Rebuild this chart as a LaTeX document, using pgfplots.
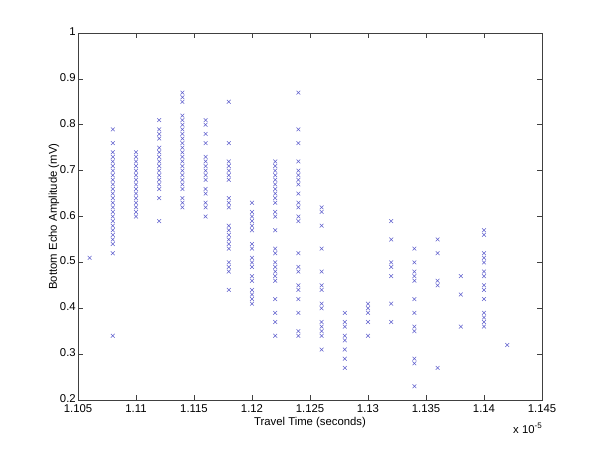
\documentclass[border=0pt]{standalone}
\usepackage{pgfplots}
\pgfplotsset{compat=1.18}
\usepackage{fontspec}
\setmainfont{Liberation Sans}
\definecolor{mk}{RGB}{95,95,205}
\begin{document}
\begin{tikzpicture}
\path[use as bounding box] (0,0) rectangle (450pt,338.25pt);
\begin{axis}[
  at={(58.5pt,38.25pt)}, anchor=south west,
  scale only axis, width=348pt, height=275.25pt,
  xmin=1.105, xmax=1.145, ymin=0.2, ymax=1,
  xtick={1.105,1.11,...,1.145}, ytick={0.2,0.3,...,1.0},
  xticklabels={1.105,1.11,1.115,1.12,1.125,1.13,1.135,1.14,1.145},
  yticklabels={0.2,0.3,0.4,0.5,0.6,0.7,0.8,0.9,1},
  /pgf/number format/assume math mode=true,
  tick pos=both, tick align=inside, major tick length=3.5pt,
  axis line style={black!75, line width=0.5pt},
  tick style={black!75, line width=0.5pt},
  ticklabel style={font=\fontsize{8.5}{9}\selectfont, inner sep=1pt},
  xticklabel style={yshift=-2pt},
  yticklabel style={xshift=-0.5pt, yshift=1pt},
  xlabel={Travel Time (seconds)},
  ylabel={Bottom Echo Amplitude (mV)},
  label style={font=\fontsize{8.5}{9}\selectfont},
  xlabel style={yshift=0.5pt},
  ylabel style={yshift=-4pt},
  clip=false,
]
\addplot[only marks, mark=x, mark size=2pt, color=mk, mark options={line width=0.4pt}] coordinates {
(1.106,0.51)
(1.108,0.79)(1.108,0.76)(1.108,0.74)(1.108,0.73)(1.108,0.72)(1.108,0.71)(1.108,0.70)(1.108,0.69)(1.108,0.68)(1.108,0.67)(1.108,0.66)(1.108,0.65)(1.108,0.64)(1.108,0.63)(1.108,0.62)(1.108,0.61)(1.108,0.60)(1.108,0.59)(1.108,0.58)(1.108,0.57)(1.108,0.56)(1.108,0.55)(1.108,0.54)(1.108,0.52)(1.108,0.34)
(1.110,0.74)(1.110,0.73)(1.110,0.72)(1.110,0.71)(1.110,0.70)(1.110,0.69)(1.110,0.68)(1.110,0.67)(1.110,0.66)(1.110,0.65)(1.110,0.64)(1.110,0.63)(1.110,0.62)(1.110,0.61)(1.110,0.60)
(1.112,0.81)(1.112,0.79)(1.112,0.78)(1.112,0.77)(1.112,0.75)(1.112,0.74)(1.112,0.73)(1.112,0.72)(1.112,0.71)(1.112,0.70)(1.112,0.69)(1.112,0.68)(1.112,0.67)(1.112,0.66)(1.112,0.64)(1.112,0.59)
(1.114,0.87)(1.114,0.86)(1.114,0.85)(1.114,0.82)(1.114,0.81)(1.114,0.80)(1.114,0.79)(1.114,0.78)(1.114,0.77)(1.114,0.76)(1.114,0.75)(1.114,0.74)(1.114,0.73)(1.114,0.72)(1.114,0.71)(1.114,0.70)(1.114,0.69)(1.114,0.68)(1.114,0.67)(1.114,0.66)(1.114,0.64)(1.114,0.63)(1.114,0.62)
(1.116,0.81)(1.116,0.80)(1.116,0.78)(1.116,0.76)(1.116,0.73)(1.116,0.72)(1.116,0.71)(1.116,0.70)(1.116,0.69)(1.116,0.68)(1.116,0.66)(1.116,0.65)(1.116,0.63)(1.116,0.62)(1.116,0.60)
(1.118,0.85)(1.118,0.76)(1.118,0.72)(1.118,0.71)(1.118,0.70)(1.118,0.69)(1.118,0.68)(1.118,0.64)(1.118,0.63)(1.118,0.62)(1.118,0.58)(1.118,0.57)(1.118,0.56)(1.118,0.55)(1.118,0.54)(1.118,0.53)(1.118,0.50)(1.118,0.49)(1.118,0.48)(1.118,0.44)
(1.120,0.63)(1.120,0.61)(1.120,0.60)(1.120,0.59)(1.120,0.58)(1.120,0.57)(1.120,0.54)(1.120,0.53)(1.120,0.51)(1.120,0.50)(1.120,0.49)(1.120,0.47)(1.120,0.46)(1.120,0.44)(1.120,0.43)(1.120,0.42)(1.120,0.41)
(1.122,0.72)(1.122,0.71)(1.122,0.70)(1.122,0.69)(1.122,0.68)(1.122,0.67)(1.122,0.66)(1.122,0.65)(1.122,0.64)(1.122,0.63)(1.122,0.61)(1.122,0.60)(1.122,0.57)(1.122,0.53)(1.122,0.52)(1.122,0.50)(1.122,0.49)(1.122,0.48)(1.122,0.47)(1.122,0.46)(1.122,0.42)(1.122,0.39)(1.122,0.37)(1.122,0.34)
(1.124,0.87)(1.124,0.79)(1.124,0.76)(1.124,0.72)(1.124,0.70)(1.124,0.69)(1.124,0.68)(1.124,0.67)(1.124,0.65)(1.124,0.63)(1.124,0.62)(1.124,0.60)(1.124,0.59)(1.124,0.52)(1.124,0.49)(1.124,0.48)(1.124,0.45)(1.124,0.44)(1.124,0.42)(1.124,0.39)(1.124,0.35)(1.124,0.34)
(1.126,0.62)(1.126,0.61)(1.126,0.58)(1.126,0.53)(1.126,0.48)(1.126,0.45)(1.126,0.44)(1.126,0.41)(1.126,0.40)(1.126,0.37)(1.126,0.36)(1.126,0.35)(1.126,0.34)(1.126,0.31)
(1.128,0.39)(1.128,0.37)(1.128,0.36)(1.128,0.34)(1.128,0.33)(1.128,0.31)(1.128,0.29)(1.128,0.27)
(1.130,0.41)(1.130,0.40)(1.130,0.39)(1.130,0.37)(1.130,0.34)
(1.132,0.59)(1.132,0.55)(1.132,0.50)(1.132,0.49)(1.132,0.47)(1.132,0.41)(1.132,0.37)
(1.134,0.53)(1.134,0.50)(1.134,0.48)(1.134,0.47)(1.134,0.46)(1.134,0.42)(1.134,0.39)(1.134,0.36)(1.134,0.35)(1.134,0.29)(1.134,0.28)(1.134,0.23)
(1.136,0.55)(1.136,0.52)(1.136,0.46)(1.136,0.45)(1.136,0.27)
(1.138,0.47)(1.138,0.43)(1.138,0.36)
(1.140,0.57)(1.140,0.56)(1.140,0.52)(1.140,0.51)(1.140,0.50)(1.140,0.48)(1.140,0.47)(1.140,0.45)(1.140,0.44)(1.140,0.42)(1.140,0.39)(1.140,0.38)(1.140,0.37)(1.140,0.36)
(1.142,0.32)
};
\node[anchor=north east, font=\fontsize{8.5}{9}\selectfont, inner sep=0pt] at ([xshift=0pt,yshift=-17pt]rel axis cs:1,0) {x 10\raisebox{3.5pt}{\fontsize{6}{6}\selectfont -5}};
\end{axis}
\end{tikzpicture}
\end{document}
